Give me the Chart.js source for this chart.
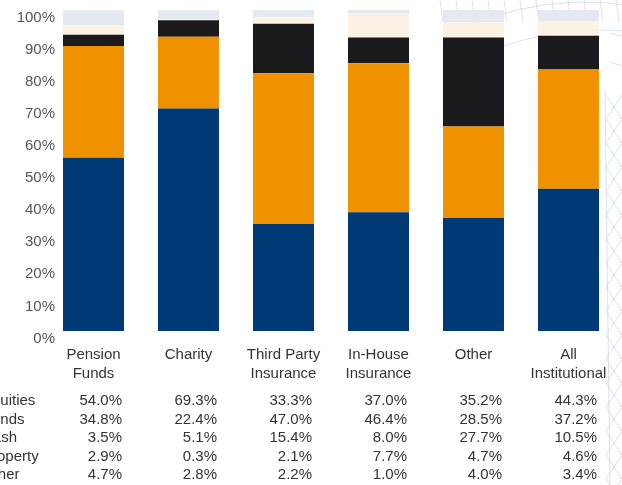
<!DOCTYPE html>
<html lang="en">
<head>
  <meta charset="utf-8">
  <title>Institutional asset allocation</title>
  <script src="https://cdn.jsdelivr.net/npm/chart.js@4/dist/chart.umd.min.js"></script>
  <style>
    html, body { margin: 0; padding: 0; background: #fff; }
    #wrap { width: 622px; height: 485px; }
  </style>
</head>
<body>
<div id="wrap"><canvas id="chart" width="622" height="485"></canvas></div>
<script>
  // categories and values
  var categories = [['Pension', 'Funds'], 'Charity', ['Third Party', 'Insurance'], ['In-House', 'Insurance'], 'Other', ['All', 'Institutional']];
  var seriesNames = ['Equities', 'Bonds', 'Cash', 'Property', 'Other'];
  var equities = [54.0, 69.3, 33.3, 37.0, 35.2, 44.3];
  var bonds    = [34.8, 22.4, 47.0, 46.4, 28.5, 37.2];
  var cash     = [3.5, 5.1, 15.4, 8.0, 27.7, 10.5];
  var property = [2.9, 0.3, 2.1, 7.7, 4.7, 4.6];
  var other    = [4.7, 2.8, 2.2, 1.0, 4.0, 3.4];
  var yTicks   = [0, 10, 20, 30, 40, 50, 60, 70, 80, 90, 100];

  var COLORS = ['#003a76', '#f09200', '#1b1a1d', '#fcf2e4', '#e4e9f1'];
  var FONT = 'Liberation Sans, Arial, sans-serif';
  var allSeries = [equities, bonds, cash, property, other];

  // faint globe / lattice drawing in the background
  var decoration = {
    id: 'decoration',
    beforeDraw: function(chart) {
      var ctx = chart.ctx;
      ctx.save();
      ctx.strokeStyle = 'rgba(180,198,222,0.5)';
      ctx.lineWidth = 1;
      ctx.beginPath();
      ctx.arc(585, 300, 298, -2.0, -1.2);
      ctx.stroke();
      ctx.beginPath();
      ctx.arc(600, 330, 300, -1.9, -0.9);
      ctx.stroke();
      for (var x = 440; x < 622; x += 16) {
        ctx.beginPath();
        ctx.moveTo(x, 0);
        ctx.lineTo(x + 3, 22);
        ctx.stroke();
      }
      ctx.beginPath();
      ctx.moveTo(610, 33); ctx.lineTo(622, 36);
      ctx.moveTo(610, 62); ctx.lineTo(622, 66);
      ctx.stroke();
      for (var y = 95; y < 485; y += 24) {
        ctx.beginPath();
        ctx.moveTo(606, y); ctx.lineTo(622, y + 24);
        ctx.moveTo(622, y); ctx.lineTo(606, y + 24);
        ctx.stroke();
      }
      ctx.beginPath();
      ctx.moveTo(605, 90); ctx.lineTo(610, 485);
      ctx.stroke();
      ctx.restore();
    }
  };

  // y tick labels sit a little below their ticks and overlap the plot's left edge,
  // so they are drawn here from the y scale instead of by the axis itself
  var yLabels = {
    id: 'yLabels',
    afterDraw: function(chart) {
      var ctx = chart.ctx;
      var scale = chart.scales.y;
      ctx.save();
      ctx.font = '15px ' + FONT;
      ctx.fillStyle = '#555555';
      ctx.textAlign = 'right';
      ctx.textBaseline = 'middle';
      yTicks.forEach(function(v) {
        ctx.fillText(v + '%', 55, scale.getPixelForValue(v) + 7.5);
      });
      ctx.restore();
    }
  };

  // data table under the x axis labels
  var dataTable = {
    id: 'dataTable',
    afterDraw: function(chart) {
      var ctx = chart.ctx;
      var bottom = chart.chartArea.bottom;
      var meta = chart.getDatasetMeta(0);
      ctx.save();
      ctx.font = '15px ' + FONT;
      ctx.fillStyle = '#333333';
      ctx.textBaseline = 'middle';
      seriesNames.forEach(function(name, r) {
        var y = bottom + 70 + r * 18.5;
        ctx.textAlign = 'left';
        ctx.fillText(name, -18, y);
        ctx.textAlign = 'right';
        allSeries[r].forEach(function(v, i) {
          var bar = meta.data[i];
          ctx.fillText(v.toFixed(1) + '%', bar.x + bar.width / 2 - 2, y);
        });
      });
      ctx.restore();
    }
  };

  var config = {
    type: 'bar',
    data: {
      labels: categories,
      datasets: seriesNames.map(function(name, i) {
        return {
          label: name,
          data: allSeries[i],
          backgroundColor: COLORS[i],
          borderWidth: 0,
          barPercentage: 0.642,
          categoryPercentage: 1
        };
      })
    },
    options: {
      responsive: false,
      animation: false,
      layout: { padding: { left: 0, right: 6, top: 10, bottom: 0 } },
      plugins: {
        legend: { display: false },
        tooltip: { enabled: false },
        title: { display: false }
      },
      scales: {
        x: {
          stacked: true,
          grid: { display: false, drawTicks: false },
          border: { display: false },
          ticks: {
            color: '#333333',
            padding: 14,
            maxRotation: 0,
            autoSkip: false,
            font: { family: FONT, size: 15, lineHeight: 1.27 }
          },
          afterFit: function(scale) { scale.height = 154; }
        },
        y: {
          stacked: true,
          min: 0,
          max: 100,
          grid: { display: false, drawTicks: false },
          border: { display: false },
          afterBuildTicks: function(scale) {
            scale.ticks = yTicks.map(function(v) { return { value: v }; });
          },
          ticks: { display: false },
          afterFit: function(scale) { scale.width = 46; }
        }
      }
    },
    plugins: [decoration, yLabels, dataTable]
  };

  new Chart(document.getElementById('chart').getContext('2d'), config);
</script>
</body>
</html>
